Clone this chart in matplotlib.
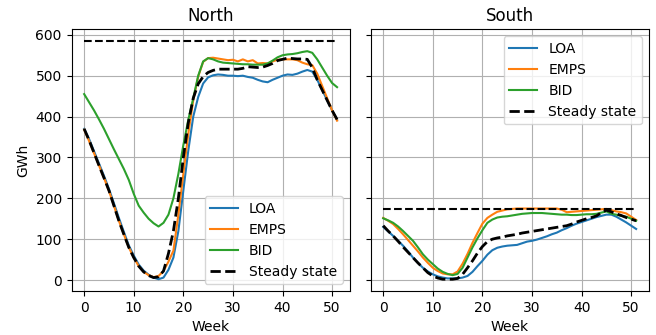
import numpy as np
import matplotlib
matplotlib.use('Agg')
import matplotlib.pyplot as plt

weeks = np.arange(52)

# North reservoir (GWh)
north_loa = [370, 345, 315, 285, 255, 223, 188, 152, 118, 85, 60, 38, 23, 13, 6, 2, 6, 25, 55, 120,
             219, 317, 400, 448, 481, 496, 501, 503, 502, 500, 500, 499, 500, 497, 495, 490, 486, 484, 490, 495,
             500, 503, 502, 505, 510, 514, 510, 490, 465, 440, 415, 392]
north_emps = [368, 340, 310, 280, 250, 218, 182, 145, 112, 80, 55, 34, 20, 12, 7, 10, 22, 45, 72, 160,
              260, 358, 440, 498, 534, 543, 544, 542, 540, 538, 539, 535, 540, 535, 538, 530, 531, 530, 535, 539,
              540, 540, 540, 538, 532, 528, 526, 505, 475, 445, 415, 390]
north_bid = [455, 435, 415, 393, 370, 345, 320, 296, 272, 245, 211, 182, 165, 150, 139, 131, 140, 160, 200, 260,
             330, 392, 445, 500, 535, 543, 540, 535, 532, 531, 530, 529, 528, 528, 527, 527, 527, 530, 537, 545,
             550, 552, 553, 555, 558, 560, 556, 540, 520, 500, 482, 472]
north_ss = [370, 342, 311, 280, 250, 219, 182, 145, 112, 80, 55, 34, 20, 11, 6, 8, 22, 65, 120, 200,
            300, 385, 445, 480, 498, 508, 513, 516, 516, 516, 516, 516, 518, 522, 521, 520, 521, 525, 530, 537,
            540, 543, 542, 541, 541, 540, 520, 490, 465, 440, 415, 393]
north_steady = 584

# South reservoir (GWh)
south_loa = [130, 119, 108, 96, 84, 70, 55, 42, 30, 21, 14, 9, 6, 4, 4, 4, 6, 10, 20, 34,
             47, 62, 73, 79, 82, 84, 85, 86, 90, 94, 96, 99, 103, 107, 112, 116, 122, 127, 133, 138,
             142, 146, 150, 154, 157, 160, 160, 155, 148, 141, 133, 125]
south_emps = [152, 145, 137, 125, 112, 98, 84, 70, 55, 42, 30, 22, 16, 14, 14, 21, 40, 64, 91, 115,
              138, 152, 160, 167, 170, 173, 174, 175, 175, 175, 175, 175, 175, 175, 175, 175, 172, 166, 167, 168,
              169, 170, 171, 172, 173, 174, 171, 168, 166, 163, 155, 147]
south_bid = [151, 146, 140, 131, 120, 108, 96, 80, 63, 50, 39, 28, 20, 15, 12, 15, 30, 55, 80, 102,
             122, 140, 148, 153, 155, 156, 158, 160, 162, 163, 164, 164, 164, 163, 162, 161, 160, 160, 159, 159,
             160, 161, 161, 162, 165, 168, 162, 160, 157, 155, 150, 145]
south_ss = [133, 120, 108, 95, 81, 68, 55, 42, 30, 18, 10, 5, 2, 2, 2, 4, 14, 30, 47, 66,
            82, 94, 100, 103, 105, 108, 110, 112, 115, 117, 119, 121, 123, 125, 127, 129, 131, 133, 137, 142,
            146, 150, 153, 157, 165, 171, 167, 162, 158, 153, 149, 145]
south_steady = 175

fig, axs = plt.subplots(1, 2, figsize=(6.56, 3.35), dpi=100, sharey=True)

panels = [
    (axs[0], 'North', north_loa, north_emps, north_bid, north_ss, north_steady, 'lower right'),
    (axs[1], 'South', south_loa, south_emps, south_bid, south_ss, south_steady, 'upper right'),
]

for ax, name, loa, emps, bid, ss, steady, loc in panels:
    ax.plot(weeks, loa, label='LOA')
    ax.plot(weeks, emps, label='EMPS')
    ax.plot(weeks, bid, label='BID')
    ax.plot(weeks, ss, 'k--', lw=2, label='Steady state')
    ax.plot(weeks, [steady] * len(weeks), 'k--', lw=1.5)
    ax.set_title(name)
    ax.set_xlabel('Week')
    ax.grid(True)
    ax.legend(loc=loc)

axs[0].set_ylabel('GWh')

plt.subplots_adjust(left=0.109, right=0.989, bottom=0.131, top=0.912, wspace=0.075)
plt.savefig('out.png', dpi=100)
